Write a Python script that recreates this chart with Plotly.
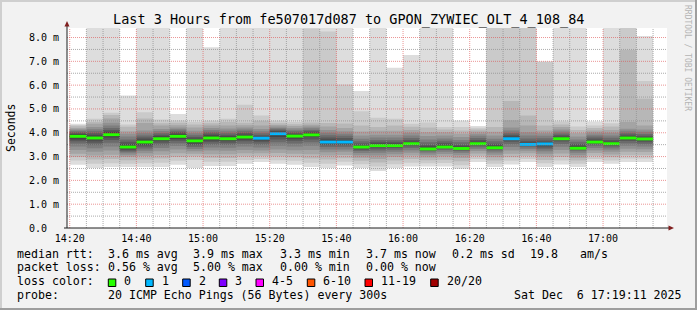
import plotly.graph_objects as go
import pandas as pd

# ---------------- data ----------------
day = "2025-12-06 "
x_start = day + "14:19:11"
x_end = day + "17:19:11"

bin_end = ["14:25", "14:30", "14:35", "14:40", "14:45", "14:50", "14:55",
           "15:00", "15:05", "15:10", "15:15", "15:20", "15:25", "15:30", "15:35", "15:40", "15:45", "15:50", "15:55",
           "16:00", "16:05", "16:10", "16:15", "16:20", "16:25", "16:30", "16:35", "16:40", "16:45", "16:50", "16:55",
           "17:00", "17:05", "17:10", "17:15"]

# 20 sorted ping RTTs (ms) per 5-minute step, read from the smoke layers
p_1425 = [2.66, 2.84, 2.98, 3.12, 3.28, 3.42, 3.55, 3.64, 3.72, 3.81, 3.89, 3.95, 4.00, 4.05, 4.10, 4.15, 4.20, 4.27, 4.33, 4.38]
p_1430 = [2.52, 2.70, 2.88, 3.05, 3.20, 3.35, 3.48, 3.58, 3.67, 3.74, 3.82, 3.90, 3.98, 4.06, 4.15, 4.24, 4.38, 4.45, 4.59, 9.60]
p_1435 = [2.56, 2.72, 2.90, 3.08, 3.25, 3.42, 3.58, 3.70, 3.80, 3.88, 3.96, 4.04, 4.12, 4.20, 4.30, 4.42, 4.60, 4.75, 4.84, 9.80]
p_1440 = [2.56, 2.70, 2.85, 2.98, 3.06, 3.14, 3.20, 3.26, 3.31, 3.36, 3.44, 3.52, 3.62, 3.72, 3.84, 3.96, 4.06, 4.25, 4.35, 5.56]
p_1445 = [2.56, 2.72, 2.88, 3.02, 3.14, 3.24, 3.34, 3.42, 3.50, 3.57, 3.65, 3.72, 3.80, 3.88, 3.98, 4.10, 4.41, 4.60, 4.86, 9.50]
p_1450 = [2.56, 2.74, 2.92, 3.08, 3.22, 3.36, 3.48, 3.58, 3.66, 3.72, 3.78, 3.85, 3.92, 3.99, 4.07, 4.16, 4.30, 4.40, 4.56, 9.50]
p_1455 = [2.66, 2.82, 2.98, 3.14, 3.30, 3.44, 3.56, 3.66, 3.74, 3.81, 3.89, 3.96, 4.02, 4.08, 4.15, 4.22, 4.32, 4.42, 4.52, 4.79]
p_1500 = [2.52, 2.86, 3.00, 3.12, 3.22, 3.32, 3.40, 3.48, 3.55, 3.62, 3.68, 3.75, 3.82, 3.90, 3.98, 4.08, 4.22, 4.35, 4.45, 9.50]
p_1505 = [2.60, 2.78, 2.95, 3.10, 3.25, 3.38, 3.50, 3.60, 3.68, 3.75, 3.83, 3.90, 3.97, 4.04, 4.12, 4.20, 4.30, 4.40, 4.50, 7.59]
p_1510 = [2.60, 2.78, 2.94, 3.10, 3.24, 3.37, 3.49, 3.58, 3.66, 3.72, 3.78, 3.85, 3.92, 4.00, 4.08, 4.18, 4.30, 4.45, 4.59, 9.50]
p_1515 = [2.70, 2.86, 3.00, 3.14, 3.28, 3.42, 3.54, 3.64, 3.72, 3.79, 3.85, 3.92, 3.99, 4.06, 4.14, 4.22, 4.32, 4.42, 5.18, 9.50]
p_1520 = [2.77, 2.90, 3.02, 3.14, 3.26, 3.38, 3.50, 3.60, 3.68, 3.73, 3.77, 3.83, 3.90, 3.98, 4.06, 4.16, 4.30, 4.50, 4.73, 9.50]
p_1525 = [2.70, 2.85, 3.00, 3.15, 3.30, 3.45, 3.60, 3.72, 3.82, 3.91, 3.99, 4.05, 4.10, 4.15, 4.20, 4.26, 4.33, 4.40, 4.50, 9.50]
p_1530 = [2.66, 2.82, 2.97, 3.12, 3.27, 3.42, 3.55, 3.66, 3.75, 3.82, 3.88, 3.94, 4.00, 4.06, 4.13, 4.20, 4.28, 4.36, 4.45, 9.50]
p_1535 = [2.56, 2.74, 2.92, 3.10, 3.28, 3.45, 3.60, 3.72, 3.82, 3.88, 3.94, 4.00, 4.06, 4.12, 4.19, 4.26, 4.34, 4.43, 8.38, 9.80]
p_1540 = [2.52, 2.70, 2.88, 3.04, 3.18, 3.30, 3.40, 3.48, 3.55, 3.59, 3.64, 3.72, 3.80, 3.90, 4.00, 4.12, 4.26, 4.41, 8.25, 9.80]
p_1545 = [2.62, 2.78, 2.93, 3.07, 3.20, 3.30, 3.40, 3.48, 3.54, 3.58, 3.62, 3.70, 3.78, 3.87, 3.96, 4.06, 4.20, 4.39, 6.03, 9.50]
p_1550 = [2.52, 2.68, 2.82, 2.95, 3.06, 3.15, 3.23, 3.29, 3.34, 3.37, 3.41, 3.47, 3.55, 3.64, 3.75, 3.88, 4.05, 4.31, 4.90, 5.75]
p_1555 = [2.39, 2.58, 2.75, 2.90, 3.04, 3.16, 3.26, 3.34, 3.40, 3.45, 3.49, 3.55, 3.62, 3.70, 3.80, 3.92, 4.08, 4.24, 4.63, 9.50]
p_1600 = [2.52, 2.68, 2.84, 2.98, 3.10, 3.20, 3.29, 3.36, 3.42, 3.45, 3.49, 3.55, 3.62, 3.70, 3.80, 3.92, 4.08, 4.30, 4.59, 6.73]
p_1605 = [2.58, 2.74, 2.90, 3.04, 3.16, 3.27, 3.36, 3.43, 3.49, 3.52, 3.56, 3.62, 3.70, 3.78, 3.88, 4.00, 4.12, 4.25, 4.38, 7.27]
p_1610 = [2.58, 2.72, 2.85, 2.96, 3.06, 3.14, 3.21, 3.26, 3.30, 3.32, 3.35, 3.42, 3.50, 3.60, 3.72, 3.86, 4.02, 4.22, 4.43, 9.50]
p_1615 = [2.58, 2.73, 2.87, 3.00, 3.11, 3.20, 3.28, 3.34, 3.38, 3.41, 3.44, 3.50, 3.58, 3.66, 3.76, 3.88, 4.02, 4.14, 4.24, 9.50]
p_1620 = [2.49, 2.64, 2.80, 2.94, 3.06, 3.15, 3.22, 3.27, 3.31, 3.32, 3.35, 3.42, 3.50, 3.60, 3.70, 3.82, 3.96, 4.10, 4.24, 4.52]
p_1625 = [2.77, 2.90, 3.02, 3.13, 3.23, 3.32, 3.39, 3.45, 3.50, 3.52, 3.55, 3.62, 3.70, 3.78, 3.87, 3.96, 4.05, 4.14, 4.21, 4.28]
p_1630 = [2.56, 2.70, 2.84, 2.97, 3.08, 3.17, 3.25, 3.31, 3.35, 3.36, 3.39, 3.46, 3.54, 3.64, 3.75, 3.88, 4.04, 4.24, 9.00, 9.80]
p_1635 = [2.67, 2.82, 2.97, 3.12, 3.26, 3.40, 3.52, 3.62, 3.70, 3.74, 3.77, 3.84, 3.92, 4.00, 4.10, 4.22, 4.53, 5.33, 9.00, 9.80]
p_1640 = [2.77, 2.90, 3.02, 3.14, 3.24, 3.32, 3.39, 3.44, 3.48, 3.49, 3.52, 3.58, 3.66, 3.76, 3.88, 4.02, 4.30, 4.73, 9.00, 9.80]
p_1645 = [2.56, 2.72, 2.86, 3.00, 3.12, 3.22, 3.31, 3.38, 3.44, 3.50, 3.54, 3.60, 3.68, 3.77, 3.87, 3.98, 4.10, 4.30, 6.98, 6.99]
p_1650 = [2.67, 2.83, 2.98, 3.13, 3.28, 3.41, 3.53, 3.63, 3.70, 3.74, 3.77, 3.83, 3.90, 3.97, 4.05, 4.14, 4.24, 4.35, 4.47, 9.50]
p_1655 = [2.56, 2.70, 2.83, 2.95, 3.06, 3.16, 3.24, 3.30, 3.34, 3.36, 3.39, 3.45, 3.53, 3.62, 3.72, 3.84, 3.98, 4.12, 4.26, 9.50]
p_1700 = [2.77, 2.90, 3.03, 3.15, 3.26, 3.36, 3.45, 3.52, 3.57, 3.60, 3.63, 3.69, 3.76, 3.84, 3.92, 4.01, 4.10, 4.20, 4.30, 4.47]
p_1705 = [2.70, 2.84, 2.97, 3.09, 3.20, 3.30, 3.38, 3.44, 3.49, 3.52, 3.55, 3.62, 3.70, 3.79, 3.89, 4.00, 4.12, 4.26, 4.40, 9.50]
p_1710 = [2.77, 2.92, 3.06, 3.20, 3.33, 3.45, 3.56, 3.65, 3.72, 3.76, 3.80, 3.86, 3.93, 4.00, 4.08, 4.17, 4.45, 7.48, 9.00, 9.80]
p_1715 = [2.77, 2.92, 3.06, 3.19, 3.31, 3.42, 3.52, 3.60, 3.67, 3.70, 3.74, 3.80, 3.87, 3.95, 4.04, 4.14, 4.30, 5.43, 6.17, 8.06]

smoke = [p_1425, p_1430, p_1435, p_1440, p_1445, p_1450, p_1455, p_1500, p_1505, p_1510,
         p_1515, p_1520, p_1525, p_1530, p_1535, p_1540, p_1545, p_1550, p_1555, p_1600,
         p_1605, p_1610, p_1615, p_1620, p_1625, p_1630, p_1635, p_1640, p_1645, p_1650,
         p_1655, p_1700, p_1705, p_1710, p_1715]

median_rtt = [3.85, 3.78, 3.92, 3.40, 3.61, 3.75, 3.85, 3.66, 3.78, 3.75,
              3.82, 3.77, 3.96, 3.86, 3.91, 3.61, 3.61, 3.40, 3.46, 3.46,
              3.54, 3.32, 3.40, 3.34, 3.54, 3.37, 3.75, 3.51, 3.53, 3.75,
              3.35, 3.61, 3.54, 3.78, 3.74]

lost = [0, 0, 0, 0, 0, 0, 0, 0, 0, 0,
        0, 1, 1, 0, 0, 1, 1, 0, 0, 0,
        0, 0, 0, 0, 0, 0, 1, 1, 1, 0,
        0, 0, 0, 0, 0]

loss_labels = ["0", "1", "2", "3", "4-5", "6-10", "11-19", "20/20"]
loss_colors = ["#26ff00", "#00b8ff", "#0059ff", "#7e00ff", "#ff00ff", "#ff5500", "#ff0000", "#a10000"]

y_ticks = [0, 1, 2, 3, 4, 5, 6, 7, 8]
y_ticktext = ["0.0\u00a0\u00a0", "1.0 m", "2.0 m", "3.0 m", "4.0 m", "5.0 m", "6.0 m", "7.0 m", "8.0 m"]
x_major = ["14:20", "14:40", "15:00", "15:20", "15:40", "16:00", "16:20", "16:40", "17:00"]
y_max = 8.4

title = "Last 3 Hours from fe507017d087 to GPON_ZYWIEC_OLT_4_108_84"
legend_rows = [
    [("median rtt:", 16), ("3.6 ms avg", 107.3), ("3.9 ms max", 192.3), ("3.3 ms min", 279.3),
     ("3.7 ms now", 365), ("0.2 ms sd", 451), ("19.8", 529.3), ("am/s", 579.3)],
    [("packet loss:", 16), ("0.56 % avg", 107.3), ("5.00 % max", 192.3), ("0.00 % min", 279.3),
     ("0.00 % now", 365)],
    [("loss color:", 16)],
    [("probe:", 16), ("20 ICMP Echo Pings (56 Bytes) every 300s", 107.3),
     ("Sat Dec\u00a0\u00a06 17:19:11 2025", 513.3)],
]
loss_box_x = [108.3, 145.7, 182.7, 219.3, 256.0, 307.3, 365.0, 430.7]

# ---------------- layout constants ----------------
W, H = 697, 310
L, T, PW, PH = 67, 28, 600, 200
MONO = "DejaVu Sans Mono"


def px(xp):
    return (xp - L) / PW


def py(yp):
    return (T + PH - yp) / PH


t0 = pd.Timestamp(x_start)
ends = [pd.Timestamp(day + e) for e in bin_end]
starts = [max(e - pd.Timedelta(minutes=5), t0) for e in ends]
step_x = starts + [ends[-1]]

fig = go.Figure()

# smoke layers (SmokePing style): layer i spans ping i .. ping 21-i
n_half = 10
for i in range(n_half):
    g = int(190 / n_half * (n_half - 1 - i)) + 50
    col = "#%02x%02x%02x" % (g, g, g)
    lo = [b[i] for b in smoke]
    hi = [b[19 - i] for b in smoke]
    fig.add_trace(go.Scatter(x=step_x, y=lo + [lo[-1]], mode="lines", line=dict(width=0, shape="hv"),
                             hoverinfo="skip", showlegend=False))
    fig.add_trace(go.Scatter(x=step_x, y=hi + [hi[-1]], mode="lines", line=dict(width=0, shape="hv"),
                             fill="tonexty", fillcolor=col, hoverinfo="skip", showlegend=False))

# median lines coloured by loss
for k, c in enumerate(loss_colors):
    xs, ys = [], []
    for s, e, m, l in zip(starts, ends, median_rtt, lost):
        if l == k:
            xs += [s, e, None]
            ys += [m, m, None]
    if xs:
        fig.add_trace(go.Scatter(x=xs, y=ys, mode="lines", line=dict(color=c, width=2.9),
                                 hoverinfo="skip", showlegend=False))

# grid (drawn above the smoke, like rrdtool)
minor_col = "rgba(143,143,143,0.75)"
major_col = "rgba(222,79,79,0.6)"
major_t = [pd.Timestamp(day + m) for m in x_major]
minor_t = [t for t in pd.date_range(day + "14:20", x_end, freq="5min") if t not in major_t]
t1 = pd.Timestamp(x_end)


def vlines(ts):
    xs, ys = [], []
    for t in ts:
        xs += [t, t, None]
        ys += [0, y_max, None]
    return xs, ys


def hlines(vs):
    xs, ys = [], []
    for v in vs:
        xs += [t0, t1, None]
        ys += [v, v, None]
    return xs, ys


minor_y = [v + 0.5 for v in y_ticks]
for (xs, ys), c in [(vlines(minor_t), minor_col), (hlines(minor_y), minor_col),
                    (vlines(major_t), major_col), (hlines(y_ticks[1:]), major_col)]:
    fig.add_trace(go.Scatter(x=xs, y=ys, mode="lines", line=dict(color=c, width=1, dash="1px,1px"),
                             hoverinfo="skip", showlegend=False))

fig.update_xaxes(range=[t0, t1], showgrid=False, zeroline=False, showline=False,
                 tickvals=major_t, ticktext=x_major, ticks="",
                 tickfont=dict(family=MONO, size=10, color="#000"), ticklabelstandoff=3)
fig.update_yaxes(range=[0, y_max], showgrid=False, zeroline=False, showline=False,
                 tickvals=y_ticks, ticktext=y_ticktext, ticks="",
                 tickfont=dict(family=MONO, size=10, color="#000"), ticklabelstandoff=7)

shapes = []
# outer 3D frame
shapes.append(dict(type="rect", xref="paper", yref="paper", x0=px(0), x1=px(W), y0=py(0), y1=py(2),
                   fillcolor="#cfcfcf", line_width=0, layer="above"))
shapes.append(dict(type="rect", xref="paper", yref="paper", x0=px(0), x1=px(2), y0=py(0), y1=py(H),
                   fillcolor="#cfcfcf", line_width=0, layer="above"))
shapes.append(dict(type="rect", xref="paper", yref="paper", x0=px(0), x1=px(W), y0=py(H - 2), y1=py(H),
                   fillcolor="#9e9e9e", line_width=0, layer="above"))
shapes.append(dict(type="rect", xref="paper", yref="paper", x0=px(W - 2), x1=px(W), y0=py(0), y1=py(H),
                   fillcolor="#9e9e9e", line_width=0, layer="above"))
# axes with arrows
shapes.append(dict(type="line", xref="paper", yref="paper", x0=px(67), x1=px(67), y0=py(228), y1=py(24),
                   line=dict(color="#1f1f1f", width=1), layer="above"))
shapes.append(dict(type="line", xref="paper", yref="paper", x0=px(64), x1=px(670), y0=py(228), y1=py(228),
                   line=dict(color="#1f1f1f", width=1), layer="above"))
shapes.append(dict(type="path", xref="paper", yref="paper",
                   path="M %f %f L %f %f L %f %f Z" % (px(64.5), py(26.5), px(69.5), py(26.5), px(67), py(21)),
                   fillcolor="#801f1f", line_width=0, layer="above"))
shapes.append(dict(type="path", xref="paper", yref="paper",
                   path="M %f %f L %f %f L %f %f Z" % (px(668.5), py(225.5), px(668.5), py(230.5), px(674), py(228)),
                   fillcolor="#801f1f", line_width=0, layer="above"))
# loss colour boxes
for bx, c in zip(loss_box_x, loss_colors):
    shapes.append(dict(type="rect", xref="paper", yref="paper", x0=px(bx), x1=px(bx + 7.5),
                       y0=py(286.5), y1=py(279), fillcolor=c, line=dict(color="#000", width=1), layer="above"))

annotations = []


def ann(text, xp, yp, size, xanchor="left", color="#000", angle=0):
    annotations.append(dict(text=text, xref="paper", yref="paper", x=px(xp), y=py(yp), xanchor=xanchor,
                            yanchor="middle", showarrow=False, borderpad=0, textangle=angle,
                            font=dict(family=MONO, size=size, color=color)))


ann(title, 348.5, 19, 13.5, xanchor="center")
ann("Seconds", 11, 128, 11.5, xanchor="center", angle=-90)
ann("RRDTOOL / TOBI OETIKER", 688, 58, 8, xanchor="center", color="#b4b4b4", angle=90)
row_y = [253.5, 267.3, 281, 294.7]
for row, yy in zip(legend_rows, row_y):
    for txt, xx in row:
        ann(txt.replace(" ", "\u00a0") if "  " in txt else txt, xx, yy, 11.6)
for bx, lab in zip(loss_box_x, loss_labels):
    ann(lab, bx + 15, row_y[2], 11.6)

fig.update_layout(width=W, height=H, margin=dict(l=L, r=W - L - PW, t=T, b=H - T - PH),
                  paper_bgcolor="#f2f2f2", plot_bgcolor="#ffffff", showlegend=False,
                  shapes=shapes, annotations=annotations)

fig.write_html("out.html")
